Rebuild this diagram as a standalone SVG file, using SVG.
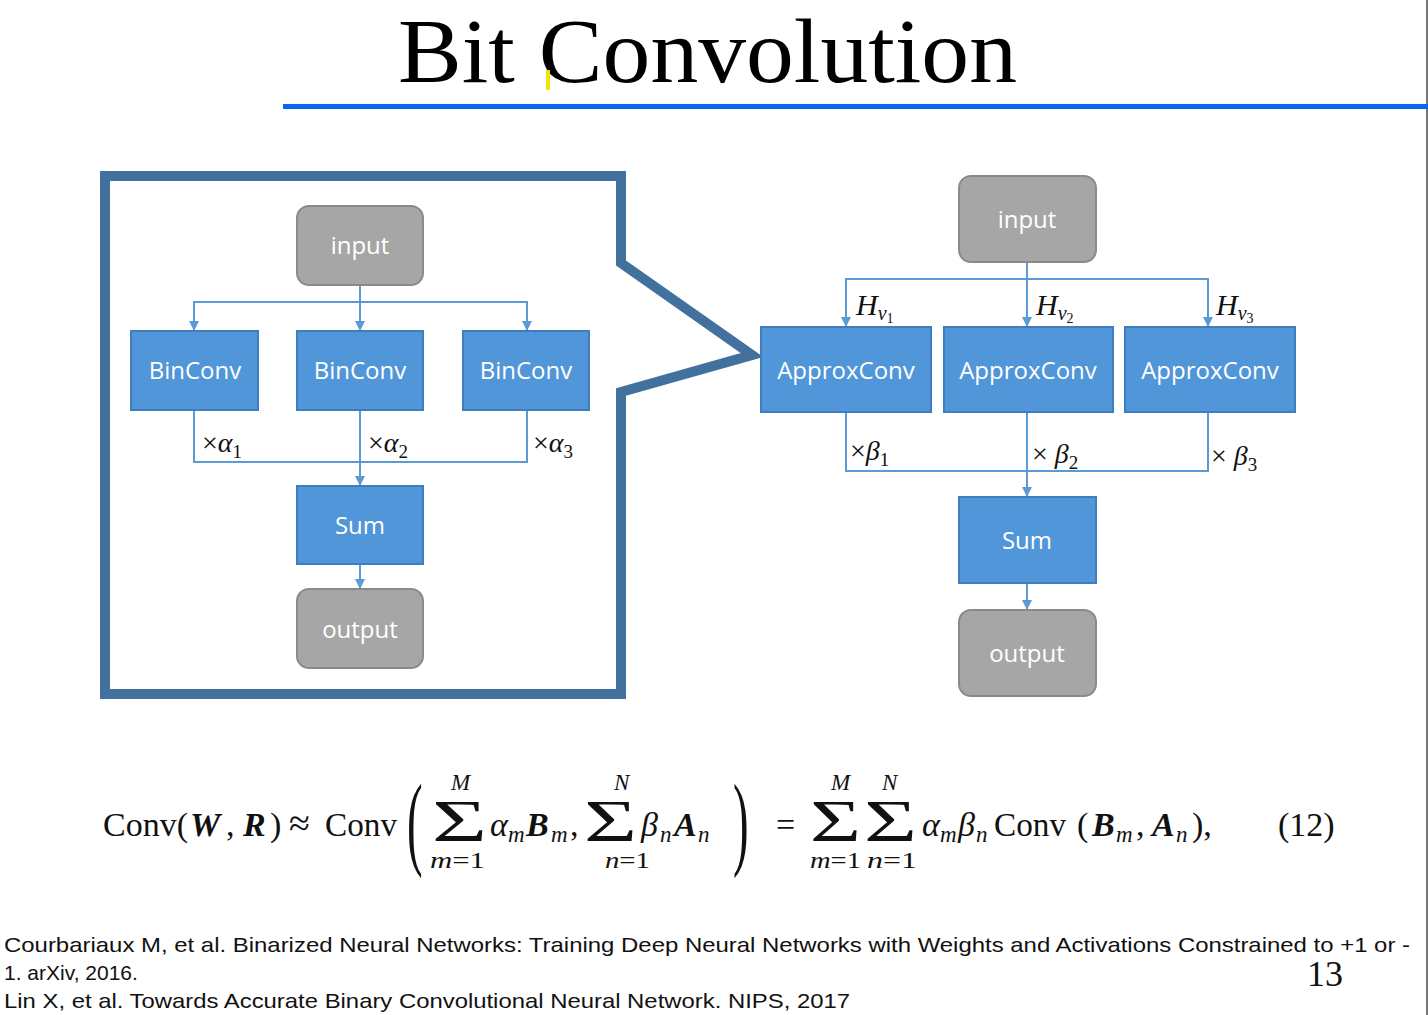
<svg xmlns="http://www.w3.org/2000/svg" width="1428" height="1015" viewBox="0 0 1428 1015">
<defs>
<style>
.blue{fill:#5096D8;stroke:#3F7DBE;stroke-width:2}
.gray{fill:#A6A6A6;stroke:#8A8A8A;stroke-width:2}
.nt{font-family:"Open Sans","Noto Sans",sans-serif;font-size:24px;fill:#FFFFFF;text-anchor:middle}
.con{fill:none;stroke:#5B9BD5;stroke-width:2}
.m{font-family:"Liberation Serif",serif;fill:#111}
.it{font-style:italic}
.bi{font-style:italic;font-weight:bold}
.ref{font-family:"Liberation Sans",Arial,sans-serif;font-size:21px;fill:#111}
</style>
<marker id="ah" markerUnits="userSpaceOnUse" markerWidth="12" markerHeight="10" refX="10" refY="5" orient="auto">
<path d="M0,0 L10,5 L0,10 Z" fill="#5B9BD5"/>
</marker>
</defs>
<rect x="0" y="0" width="1428" height="1015" fill="#FFFFFF"/>
<line x1="1427" y1="0" x2="1427" y2="1015" stroke="#777" stroke-width="2"/>

<g id="title">
<text x="398" y="82" font-family="Liberation Serif,serif" font-size="92" textLength="619" lengthAdjust="spacingAndGlyphs" fill="#000">Bit Convolution</text>
<rect x="546" y="70" width="4" height="20" fill="#F2E600"/>
<rect x="283" y="104" width="1145" height="5" fill="#0A66F2"/>
</g>

<g id="callout">
<path d="M105,176 L621,176 L621,263 L752,355 L621,392 L621,694 L105,694 Z" fill="none" stroke="#41719C" stroke-width="10" stroke-linejoin="miter"/>
</g>

<g id="connectors">
<line class="con" x1="360" y1="285" x2="360" y2="331" marker-end="url(#ah)"/>
<polyline class="con" points="194,331 194,302 527,302 527,331"/>
<line class="con" x1="194" y1="318" x2="194" y2="331" marker-end="url(#ah)"/>
<line class="con" x1="527" y1="318" x2="527" y2="331" marker-end="url(#ah)"/>
<polyline class="con" points="194,410 194,462 527,462 527,410"/>
<line class="con" x1="360" y1="410" x2="360" y2="486" marker-end="url(#ah)"/>
<line class="con" x1="360" y1="564" x2="360" y2="589" marker-end="url(#ah)"/>
<line class="con" x1="1027" y1="262" x2="1027" y2="327" marker-end="url(#ah)"/>
<polyline class="con" points="846,327 846,279 1208,279 1208,327"/>
<line class="con" x1="846" y1="315" x2="846" y2="327" marker-end="url(#ah)"/>
<line class="con" x1="1208" y1="315" x2="1208" y2="327" marker-end="url(#ah)"/>
<polyline class="con" points="846,412 846,471 1208,471 1208,412"/>
<line class="con" x1="1027" y1="412" x2="1027" y2="497" marker-end="url(#ah)"/>
<line class="con" x1="1027" y1="583" x2="1027" y2="610" marker-end="url(#ah)"/>
</g>

<g id="l-input"><rect class="gray" x="297" y="206" width="126" height="79" rx="12"/><text class="nt" x="360" y="254">input</text></g>
<g id="l-bin1"><rect class="blue" x="131" y="331" width="127" height="79"/><text class="nt" x="195" y="379">BinConv</text></g>
<g id="l-bin2"><rect class="blue" x="297" y="331" width="126" height="79"/><text class="nt" x="360" y="379">BinConv</text></g>
<g id="l-bin3"><rect class="blue" x="463" y="331" width="126" height="79"/><text class="nt" x="526" y="379">BinConv</text></g>
<g id="l-sum"><rect class="blue" x="297" y="486" width="126" height="78"/><text class="nt" x="360" y="534">Sum</text></g>
<g id="l-output"><rect class="gray" x="297" y="589" width="126" height="79" rx="12"/><text class="nt" x="360" y="638">output</text></g>

<g id="l-labels" class="m">
<text x="202" y="452" font-size="28">×<tspan class="it">α</tspan><tspan font-size="19" dy="6">1</tspan></text>
<text x="368" y="452" font-size="28">×<tspan class="it">α</tspan><tspan font-size="19" dy="6">2</tspan></text>
<text x="533" y="452" font-size="28">×<tspan class="it">α</tspan><tspan font-size="19" dy="6">3</tspan></text>
</g>

<g id="r-input"><rect class="gray" x="959" y="176" width="137" height="86" rx="12"/><text class="nt" x="1027" y="228">input</text></g>
<g id="r-ac1"><rect class="blue" x="761" y="327" width="170" height="85"/><text class="nt" x="846" y="379">ApproxConv</text></g>
<g id="r-ac2"><rect class="blue" x="944" y="327" width="169" height="85"/><text class="nt" x="1028" y="379">ApproxConv</text></g>
<g id="r-ac3"><rect class="blue" x="1125" y="327" width="170" height="85"/><text class="nt" x="1210" y="379">ApproxConv</text></g>
<g id="r-sum"><rect class="blue" x="959" y="497" width="137" height="86"/><text class="nt" x="1027" y="549">Sum</text></g>
<g id="r-output"><rect class="gray" x="959" y="610" width="137" height="86" rx="12"/><text class="nt" x="1027" y="662">output</text></g>

<g id="r-labels" class="m">
<text x="856" y="315" font-size="30" class="it">H<tspan font-size="20" dy="5">v</tspan><tspan font-size="14" dy="3" font-style="normal">1</tspan></text>
<text x="1036" y="315" font-size="30" class="it">H<tspan font-size="20" dy="5">v</tspan><tspan font-size="14" dy="3" font-style="normal">2</tspan></text>
<text x="1216" y="315" font-size="30" class="it">H<tspan font-size="20" dy="5">v</tspan><tspan font-size="14" dy="3" font-style="normal">3</tspan></text>
<text x="850" y="460" font-size="28">×<tspan class="it">β</tspan><tspan font-size="19" dy="6">1</tspan></text>
<text x="1032" y="463" font-size="28">× <tspan class="it">β</tspan><tspan font-size="19" dy="6">2</tspan></text>
<text x="1211" y="465" font-size="28">× <tspan class="it">β</tspan><tspan font-size="19" dy="6">3</tspan></text>
</g>

<g id="equation" class="m" font-size="34">
<text x="103" y="836">Conv(</text>
<text x="190" y="836" class="bi">W</text>
<text x="226" y="836">,</text>
<text x="243" y="836" class="bi">R</text>
<text x="270" y="836">)</text>
<text x="289" y="836" font-size="38">≈</text>
<text x="325" y="836" textLength="72" lengthAdjust="spacingAndGlyphs">Conv</text>
<text transform="translate(407,856) scale(0.45,1)" font-size="104">(</text>
<text x="432" y="841" font-size="60" textLength="55" lengthAdjust="spacingAndGlyphs">Σ</text>
<text x="451" y="790" font-size="23" class="it">M</text>
<text x="430" y="868" font-size="23" textLength="55" lengthAdjust="spacingAndGlyphs"><tspan class="it">m</tspan>=1</text>
<text x="490" y="836" class="it">α</text>
<text x="508" y="842" font-size="23" class="it">m</text>
<text x="526" y="836" class="bi">B</text>
<text x="551" y="842" font-size="23" class="it">m</text>
<text x="570" y="836">,</text>
<text x="584" y="841" font-size="60" textLength="53" lengthAdjust="spacingAndGlyphs">Σ</text>
<text x="614" y="790" font-size="23" class="it">N</text>
<text x="605" y="868" font-size="23" textLength="45" lengthAdjust="spacingAndGlyphs"><tspan class="it">n</tspan>=1</text>
<text x="641" y="836" class="it">β</text>
<text x="660" y="842" font-size="23" class="it">n</text>
<text x="674" y="836" class="bi">A</text>
<text x="698" y="842" font-size="23" class="it">n</text>
<text transform="translate(733,856) scale(0.45,1)" font-size="104">)</text>
<text x="776" y="836">=</text>
<text x="810" y="841" font-size="60" textLength="51" lengthAdjust="spacingAndGlyphs">Σ</text>
<text x="831" y="790" font-size="23" class="it">M</text>
<text x="810" y="868" font-size="23" textLength="51" lengthAdjust="spacingAndGlyphs"><tspan class="it">m</tspan>=1</text>
<text x="864" y="841" font-size="60" textLength="53" lengthAdjust="spacingAndGlyphs">Σ</text>
<text x="882" y="790" font-size="23" class="it">N</text>
<text x="867" y="868" font-size="23" textLength="50" lengthAdjust="spacingAndGlyphs"><tspan class="it">n</tspan>=1</text>
<text x="922" y="836" class="it">α</text>
<text x="940" y="842" font-size="23" class="it">m</text>
<text x="958" y="836" class="it">β</text>
<text x="976" y="842" font-size="23" class="it">n</text>
<text x="994" y="836" textLength="72" lengthAdjust="spacingAndGlyphs">Conv</text>
<text x="1077" y="836">(</text>
<text x="1092" y="836" class="bi">B</text>
<text x="1116" y="842" font-size="23" class="it">m</text>
<text x="1136" y="836">,</text>
<text x="1152" y="836" class="bi">A</text>
<text x="1176" y="842" font-size="23" class="it">n</text>
<text x="1192" y="836">),</text>
<text x="1278" y="836">(12)</text>
</g>

<g id="references">
<text class="ref" x="4" y="952" textLength="1406" lengthAdjust="spacingAndGlyphs">Courbariaux M, et al. Binarized Neural Networks: Training Deep Neural Networks with Weights and Activations Constrained to +1 or -</text>
<text class="ref" x="4" y="980">1. arXiv, 2016.</text>
<text class="ref" x="4" y="1008" textLength="846" lengthAdjust="spacingAndGlyphs">Lin X, et al. Towards Accurate Binary Convolutional Neural Network. NIPS, 2017</text>
<text x="1307" y="986" font-family="Liberation Serif,serif" font-size="36" fill="#111">13</text>
</g>
</svg>
